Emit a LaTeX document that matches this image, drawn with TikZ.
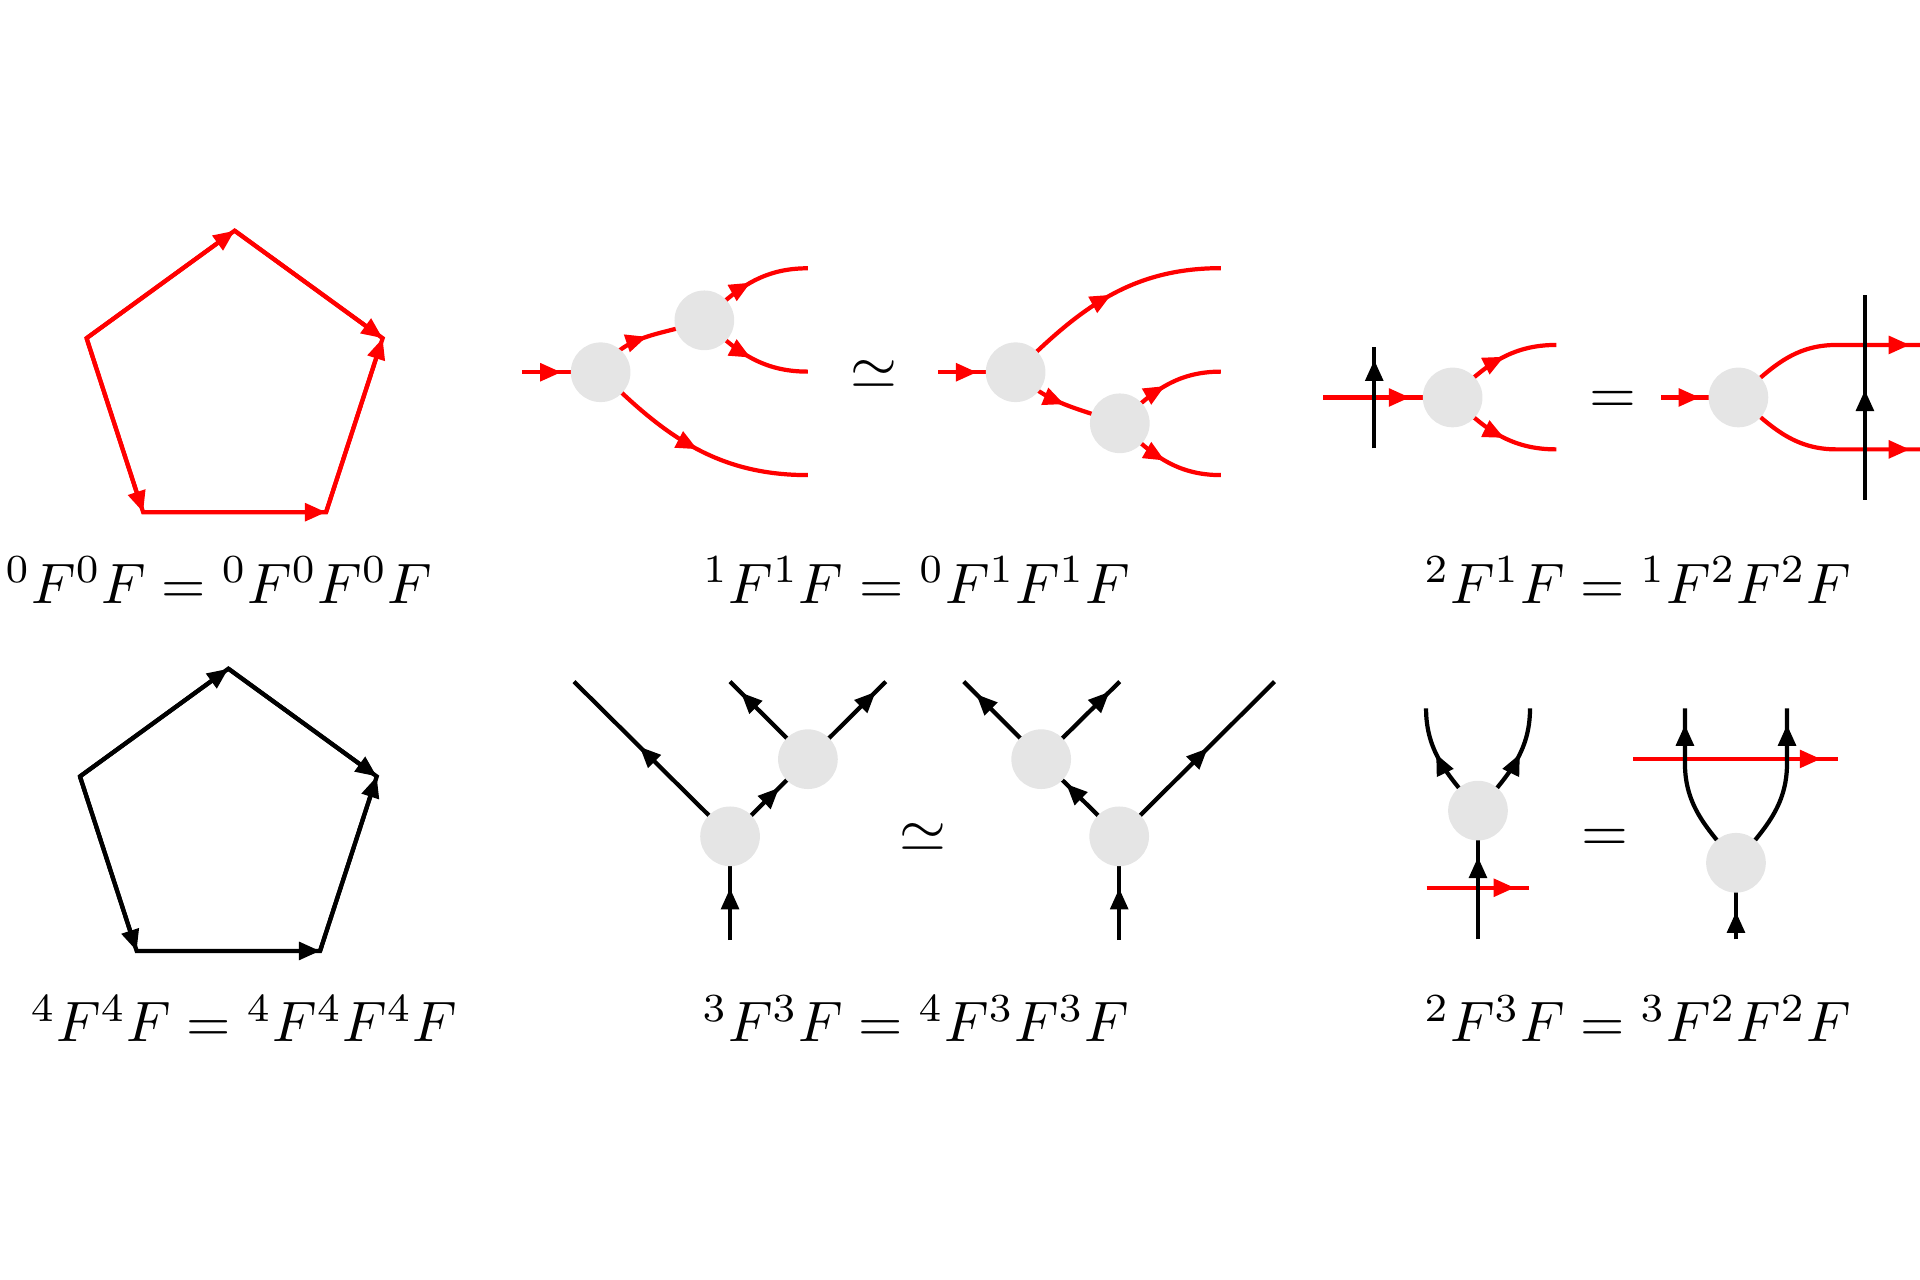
\documentclass[tikz,border=0pt]{standalone}
\usetikzlibrary{arrows.meta,decorations.markings}
\newcommand{\lbl}[1]{\scalebox{0.945}{$#1$}}
\begin{document}
\begin{tikzpicture}[x=0.2031pt,y=0.2031pt,
  >={Triangle[length=3.5pt,width=2.9pt]},
  ln/.style={line width=0.7pt},
  rl/.style={ln,draw=red,fill=none},
  bl/.style={ln,draw=black,fill=none},
  arr/.style={postaction={decorate,decoration={markings,mark=at position #1 with {\arrow{Triangle[length=3.5pt,width=2.9pt]}}}}},
  blob/.style={circle,fill=gray!20,draw=none,minimum size=9.9pt,inner sep=0pt},
  lab/.style={anchor=base,inner sep=0pt}]
\useasboundingbox (0,0) rectangle (1568,-1045.3);

% ---------- red pentagon ----------
\coordinate (a1) at (191.6,-188.4);
\coordinate (a2) at (312.5,-276.2);
\coordinate (a3) at (266.3,-418.3);
\coordinate (a4) at (116.9,-418.3);
\coordinate (a5) at (70.7,-276.2);
\draw[rl,line join=miter] (a5) -- (a1) -- (a2) -- (a3) -- (a4) -- cycle;
\draw[rl,->] (a5) -- (a1);
\draw[rl,->] (a1) -- (a2);
\draw[rl,->] (a3) -- (a2);
\draw[rl,->] (a5) -- (a4);
\draw[rl,->] (a4) -- (a3);
\node[lab] (L1) at (178.8,-492.6) {\lbl{{}^0F^0F = {}^0F^0F^0F}};

% ---------- black pentagon ----------
\coordinate (b1) at (186.5,-546.1);
\coordinate (b2) at (307.7,-634.1);
\coordinate (b3) at (261.4,-776.6);
\coordinate (b4) at (111.6,-776.6);
\coordinate (b5) at (65.3,-634.1);
\draw[bl,line join=miter] (b5) -- (b1) -- (b2) -- (b3) -- (b4) -- cycle;
\draw[bl,->] (b5) -- (b1);
\draw[bl,->] (b1) -- (b2);
\draw[bl,->] (b3) -- (b2);
\draw[bl,->] (b5) -- (b4);
\draw[bl,->] (b4) -- (b3);
\node[lab] (L4) at (199.3,-850.7) {\lbl{{}^4F^4F = {}^4F^4F^4F}};

% ---------- top middle ----------
\coordinate (A) at (490.5,-304);
\coordinate (B) at (575.2,-261.6);
\coordinate (iA) at (426.2,-304);
\coordinate (o1) at (659.7,-219.1);
\coordinate (o2) at (659.7,-303.5);
\coordinate (o3) at (659.7,-388);
\draw[rl,arr=0.5] (iA) -- (A);
\draw[rl,arr=0.5] (A) to[out=60,in=200] (B);
\draw[rl,arr=0.5] (B) to[out=45,in=180] (o1);
\draw[rl,arr=0.5] (B) to[out=-45,in=180] (o2);
\draw[rl,arr=0.52] (A) to[out=-45,in=180] (o3);
\node[blob] (Ab) at (A) {};
\node[blob] (Bb) at (B) {};
\node[lab] (sim1) at (713.5,-317.3) {$\simeq$};

\coordinate (C) at (829.4,-304);
\coordinate (D) at (914.5,-345.7);
\coordinate (iC) at (766.4,-304);
\coordinate (o4) at (997,-219);
\coordinate (o5) at (997,-303.5);
\coordinate (o6) at (997,-388);
\draw[rl,arr=0.5] (iC) -- (C);
\draw[rl,arr=0.52] (C) to[out=45,in=180] (o4);
\draw[rl,arr=0.5] (C) to[out=-45,in=160] (D);
\draw[rl,arr=0.5] (D) to[out=45,in=180] (o5);
\draw[rl,arr=0.5] (D) to[out=-45,in=180] (o6);
\node[blob] (Cb) at (C) {};
\node[blob] (Db) at (D) {};
\node[lab] (L2) at (748.5,-492.6) {\lbl{{}^1F^1F = {}^0F^1F^1F}};

% ---------- top right ----------
\coordinate (E) at (1186.3,-324.6);
\coordinate (iE) at (1080.5,-324.6);
\coordinate (o7) at (1271,-281.7);
\coordinate (o8) at (1271,-367);
\coordinate (v1) at (1122.3,-366.1);
\coordinate (v2) at (1122.3,-283.1);
\draw[rl,arr=0.67] (iE) -- (E);
\draw[rl,arr=0.55] (E) to[out=45,in=180] (o7);
\draw[rl,arr=0.55] (E) to[out=-45,in=180] (o8);
\node[blob] (Eb) at (E) {};
\draw[bl,arr=0.87] (v1) -- (v2);
\node[lab] (eq1) at (1317,-337.3) {$=$};

\coordinate (F) at (1419.7,-324.6);
\coordinate (iF) at (1356.5,-324.6);
\coordinate (h1) at (1500,-281.7);
\coordinate (o9) at (1568,-281.7);
\coordinate (h2) at (1500,-367);
\coordinate (o10) at (1568,-367);
\coordinate (v3) at (1523,-408.3);
\coordinate (v4) at (1523,-241);
\draw[rl,arr=0.5] (iF) -- (F);
\draw[rl,arr=-1.7pt] (F) to[out=42,in=180] (h1) -- (o9);
\draw[rl,arr=-1.7pt] (F) to[out=-42,in=180] (h2) -- (o10);
\node[blob] (Fb) at (F) {};
\draw[bl,arr=0.537] (v3) -- (v4);
\node[lab] (L3) at (1337.5,-492.6) {\lbl{{}^2F^1F = {}^1F^2F^2F}};

% ---------- bottom middle ----------
\coordinate (G) at (596.2,-683);
\coordinate (H) at (659.8,-620);
\coordinate (iG) at (596.2,-767.7);
\coordinate (e1) at (468.8,-556.7);
\coordinate (e2) at (596.2,-556.7);
\coordinate (e3) at (723.4,-556.7);
\draw[bl,arr=0.5] (iG) -- (G);
\draw[bl,arr=0.58] (G) -- (e1);
\draw[bl,arr=0.63] (G) -- (H);
\draw[bl,arr=0.86] (H) -- (e2);
\draw[bl,arr=0.87] (H) -- (e3);
\node[blob] (Gb) at (G) {};
\node[blob] (Hb) at (H) {};
\node[lab] (sim2) at (753.9,-695.6) {$\simeq$};

\coordinate (I) at (850.3,-620);
\coordinate (J) at (914,-683);
\coordinate (iJ) at (914,-767.7);
\coordinate (e4) at (787.1,-556.7);
\coordinate (e5) at (914.4,-556.7);
\coordinate (e6) at (1040.8,-556.7);
\draw[bl,arr=0.5] (iJ) -- (J);
\draw[bl,arr=0.57] (J) -- (e6);
\draw[bl,arr=0.68] (J) -- (I);
\draw[bl,arr=0.84] (I) -- (e4);
\draw[bl,arr=0.87] (I) -- (e5);
\node[blob] (Ib) at (I) {};
\node[blob] (Jb) at (J) {};
\node[lab] (L5) at (747.9,-850.7) {\lbl{{}^3F^3F = {}^4F^3F^3F}};

% ---------- bottom right ----------
\coordinate (K) at (1207,-662);
\coordinate (iK) at (1207,-767.1);
\coordinate (f1) at (1164.6,-578.5);
\coordinate (f2) at (1249.5,-578.5);
\coordinate (r1) at (1165.1,-725);
\coordinate (r2) at (1248.7,-725);
\draw[rl,arr=0.86] (r1) -- (r2);
\draw[bl,arr=0.64] (iK) -- (K);
\draw[bl,arr=0.6] (K) to[out=130,in=-90] (f1);
\draw[bl,arr=0.6] (K) to[out=50,in=-90] (f2);
\node[blob] (Kb) at (K) {};
\node[lab] (eq2) at (1311,-695.6) {$=$};

\coordinate (Lc) at (1417.7,-704.6);
\coordinate (iL) at (1417.7,-767.1);
\coordinate (g1) at (1376,-623);
\coordinate (f3) at (1376,-578.5);
\coordinate (g2) at (1459.4,-623);
\coordinate (f4) at (1459.4,-578.5);
\coordinate (r3) at (1333.9,-619.8);
\coordinate (r4) at (1501.3,-619.8);
\draw[rl,arr=-2.9pt] (r3) -- (r4);
\draw[bl,arr=0.36] (iL) -- (Lc);
\draw[bl,arr=-2.7pt] (Lc) to[out=130,in=-90] (g1) -- (f3);
\draw[bl,arr=-2.7pt] (Lc) to[out=50,in=-90] (g2) -- (f4);
\node[blob] (Lb) at (Lc) {};
\node[lab] (L6) at (1337.5,-850.7) {\lbl{{}^2F^3F = {}^3F^2F^2F}};
\end{tikzpicture}
\end{document}
